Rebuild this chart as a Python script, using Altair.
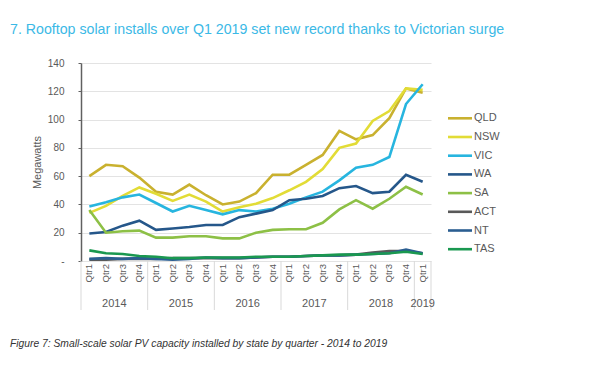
import altair as alt
import pandas as pd

# ---- data ----
states = ["QLD", "NSW", "VIC", "WA", "SA", "ACT", "NT", "TAS"]
colors = ["#C9B12F", "#E2DC36", "#27B5DF", "#25578A", "#8DC046", "#595959", "#2B5E91", "#1A9850"]

years = ["2014", "2015", "2016", "2017", "2018", "2019"]
quarters_per_year = [4, 4, 4, 4, 4, 1]
quarter_names = ["Qtr1", "Qtr2", "Qtr3", "Qtr4"]

QLD = [60, 68, 67, 59, 49, 47, 54, 46.5, 40, 42, 48, 61, 61, 68, 75, 92, 86, 89, 101, 122, 119]
NSW = [34, 39, 46, 52, 47.5, 42.5, 47, 42, 35, 38, 40.5, 44.5, 50, 56, 65, 80, 83, 99, 106, 122, 121]
VIC = [38.5, 41.5, 45, 47, 41, 35, 39, 36, 33, 36, 35, 37, 40.5, 45, 49, 57, 66, 68, 73.5, 111, 125]
WA = [19.5, 20.5, 25, 28.5, 22, 23, 24, 25.5, 25.5, 31, 33.5, 36, 43, 44, 46, 51.5, 53, 48, 49, 61, 56]
SA = [36, 20, 21, 21.5, 16.5, 16.5, 17.5, 17.5, 16, 16, 20, 22, 22.5, 22.5, 27, 36.5, 43, 37, 44, 52.5, 47]
ACT = [1, 1, 1.5, 1.5, 1.5, 2, 2, 2, 2, 2, 2.5, 3, 3, 3.5, 4, 4, 4.5, 6, 7, 7, 5.5]
NT = [1.5, 2, 1.5, 2, 1.5, 1, 1.5, 2.5, 2, 2, 2.5, 3, 3, 3.5, 4, 4, 4.5, 5, 5.5, 8, 5.5]
TAS = [7.5, 5.5, 5, 3.5, 3, 2, 2, 2.5, 2.5, 2.5, 3, 3, 3, 3.5, 4, 4.5, 4.5, 5, 5.5, 6.5, 5]

title_text = "7. Rooftop solar installs over Q1 2019 set new record thanks to Victorian surge"
caption_text = "Figure 7: Small-scale solar PV capacity installed by state by quarter - 2014 to 2019"
y_title = "Megawatts"

# ---- tables built from the arrays ----
series = dict(zip(states, [QLD, NSW, VIC, WA, SA, ACT, NT, TAS]))
rows = []
for s in states:
    for i, v in enumerate(series[s]):
        rows.append({"state": s, "idx": i, "value": v})
df = pd.DataFrame(rows)

qrows = []
idx = 0
for y, n in zip(years, quarters_per_year):
    for k in range(n):
        qrows.append({"idx": idx, "q": quarter_names[k], "year": y})
        idx += 1
qdf = pd.DataFrame(qrows)
ydf = qdf.groupby("year", as_index=False)["idx"].mean()

bounds = [-0.5]
c = -0.5
for n in quarters_per_year:
    c += n
    bounds.append(c)
bdf = pd.DataFrame({"b": bounds})

n_q = len(qdf)
W, H = 350, 198
FONT = "Liberation Sans"
GRAY = "#595959"

xscale = alt.Scale(domain=[-0.5, n_q - 0.5], nice=False, zero=False)
cscale = alt.Scale(domain=states, range=colors)

lines = alt.Chart(df).mark_line(strokeWidth=2.6).encode(
    x=alt.X("idx:Q", scale=xscale, axis=None),
    y=alt.Y("value:Q", scale=alt.Scale(domain=[0, 140], nice=False),
            axis=alt.Axis(values=list(range(0, 141, 20)), title=y_title,
                          labelExpr="datum.value == 0 ? '-' : datum.label",
                          labelFont=FONT, labelFontSize=10, labelColor=GRAY,
                          labelPadding=14, tickSize=3, tickColor="#606060",
                          domainColor="#606060", domainWidth=1.5,
                          gridColor="#e3e3e3", gridWidth=1,
                          titleFont=FONT, titleFontSize=11, titleColor=GRAY,
                          titleFontWeight="normal", titleAngle=270,
                          titleAlign="center", titleBaseline="middle",
                          titleX=-44, titleY=99)),
    color=alt.Color("state:N", scale=cscale, sort=states, legend=None),
)

seps = alt.Chart(bdf).mark_rule(color="#d9d9d9", strokeWidth=1).encode(
    x=alt.X("b:Q", scale=xscale), y=alt.value(H), y2=alt.value(H + 49)
)

qlabels = alt.Chart(qdf).mark_text(angle=270, align="right", baseline="middle",
                                   font=FONT, fontSize=9.5, color=GRAY).encode(
    x=alt.X("idx:Q", scale=xscale), y=alt.value(H + 3), text="q:N"
)

ylabels = alt.Chart(ydf).mark_text(align="center", baseline="middle",
                                   font=FONT, fontSize=11, color=GRAY).encode(
    x=alt.X("idx:Q", scale=xscale), y=alt.value(H + 43), text="year:N"
)

ldf = pd.DataFrame({"state": states})
leg_y = alt.Y("state:N", sort=states, axis=None,
              scale=alt.Scale(type="point", range=[55.3, 186.2], padding=0))
leg_lines = alt.Chart(ldf).mark_rule(strokeWidth=2.6).encode(
    x=alt.value(367), x2=alt.value(391), y=leg_y,
    color=alt.Color("state:N", scale=cscale, legend=None),
)
leg_text = alt.Chart(ldf).mark_text(align="left", baseline="middle",
                                    font=FONT, fontSize=11, color=GRAY).encode(
    x=alt.value(393), y=leg_y, text="state:N"
)

tdf = pd.DataFrame({"t": [title_text], "c": [caption_text]})
title = alt.Chart(tdf).mark_text(align="left", baseline="alphabetic", font=FONT,
                                 fontSize=14.2, color="#3BB9E6").encode(
    x=alt.value(-71), y=alt.value(-29), text="t:N"
)
caption = alt.Chart(tdf).mark_text(align="left", baseline="alphabetic", font=FONT,
                                   fontSize=10.3, fontStyle="italic", color="#333333").encode(
    x=alt.value(-71), y=alt.value(284), text="c:N"
)

chart = alt.layer(lines, seps, qlabels, ylabels, title, caption, leg_lines, leg_text).resolve_scale(
    y="independent"
).properties(
    width=W, height=H,
    autosize=alt.AutoSizeParams(type="none"),
    padding={"left": 73, "top": 55, "right": 150, "bottom": 100},
    background="white",
).configure_view(stroke=None)

chart.save("out.html", embed_options={"renderer": "svg", "actions": False})
